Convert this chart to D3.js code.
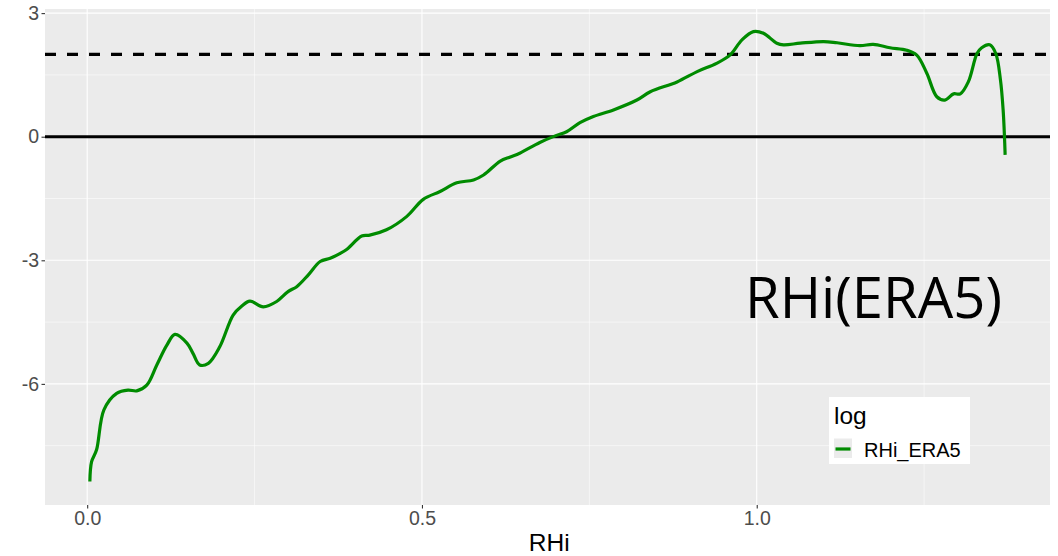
<!DOCTYPE html>
<html><head><meta charset="utf-8">
<script src="https://cdn.jsdelivr.net/npm/d3@7"></script>
<style>body{margin:0;background:#fff}svg{display:block}</style>
</head><body>
<svg id="c" width="1058" height="556"></svg>
<script>
const rhi = [0.004,0.0066,0.014,0.025,0.044,0.061,0.074,0.089,0.104,0.119,0.131,0.149,0.158,0.168,0.181,0.198,0.218,0.231,0.243,0.263,0.283,0.300,0.313,0.330,0.348,0.363,0.378,0.388,0.410,0.422,0.447,0.477,0.502,0.527,0.552,0.577,0.592,0.617,0.632,0.646,0.676,0.699,0.716,0.736,0.756,0.786,0.821,0.841,0.881,0.911,0.940,0.960,0.978,0.995,1.010,1.030,1.040,1.065,1.100,1.120,1.154,1.174,1.199,1.224,1.239,1.254,1.269,1.281,1.294,1.304,1.316,1.329,1.336,1.348,1.357,1.364,1.368,1.370,1.371];
const logVal = [-8.37,-7.89,-7.60,-6.63,-6.23,-6.15,-6.17,-6.03,-5.54,-5.06,-4.80,-5.01,-5.26,-5.54,-5.50,-5.10,-4.33,-4.11,-3.99,-4.13,-4.00,-3.76,-3.64,-3.36,-3.03,-2.95,-2.83,-2.73,-2.41,-2.39,-2.26,-1.94,-1.52,-1.33,-1.12,-1.05,-0.93,-0.59,-0.49,-0.40,-0.14,0.02,0.12,0.34,0.49,0.65,0.89,1.09,1.33,1.58,1.78,1.98,2.35,2.55,2.51,2.27,2.23,2.27,2.31,2.28,2.21,2.24,2.16,2.10,1.98,1.54,0.97,0.89,1.04,1.04,1.33,2.02,2.16,2.23,2.02,1.38,0.65,0.00,-0.44];
const xTicks = [0.0, 0.5, 1.0];
const xTickLabels = ["0.0", "0.5", "1.0"];
const xMinor = [0.25, 0.75, 1.25];
const yTicks = [3, 0, -3, -6];
const yTickLabels = ["3", "0", "-3", "-6"];
const yMinor = [1.5, -1.5, -4.5, -7.5];
const refLines = [0, 2];
const seriesName = "RHi_ERA5";
const legendTitle = "log";
const annotation = "RHi(ERA5)";
const xTitle = "RHi";

const FONT = "Liberation Sans, Arial, sans-serif";
const svg = d3.select("#c");
const L = 45, R = 1050, T = 9, B = 505;
const x = d3.scaleLinear().domain([-0.063, 1.438]).range([L, R]);
const y = d3.scaleLinear().domain([-8.94, 3.1]).range([B, T]);

svg.append("rect").attr("x", L).attr("y", T).attr("width", R - L).attr("height", B - T).attr("fill", "#EBEBEB");

const g = svg.append("g");
g.selectAll(".xm").data(xMinor).join("line").attr("x1", d => x(d)).attr("x2", d => x(d)).attr("y1", T).attr("y2", B).attr("stroke", "#fff").attr("stroke-width", 0.55);
g.selectAll(".ym").data(yMinor).join("line").attr("y1", d => y(d)).attr("y2", d => y(d)).attr("x1", L).attr("x2", R).attr("stroke", "#fff").attr("stroke-width", 0.55);
g.selectAll(".xM").data(xTicks).join("line").attr("x1", d => x(d)).attr("x2", d => x(d)).attr("y1", T).attr("y2", B).attr("stroke", "#fff").attr("stroke-width", 1.1);
g.selectAll(".yM").data(yTicks).join("line").attr("y1", d => y(d)).attr("y2", d => y(d)).attr("x1", L).attr("x2", R).attr("stroke", "#fff").attr("stroke-width", 1.1);

// axes
const xAxis = d3.axisBottom(x).tickValues(xTicks).tickFormat((d, i) => xTickLabels[i]).tickSize(3.5).tickPadding(3);
const xa = svg.append("g").attr("transform", `translate(0,${B})`).call(xAxis);
xa.select(".domain").remove();
xa.selectAll("line").attr("stroke", "#333").attr("stroke-width", 1.1);
xa.selectAll("text").attr("fill", "#4D4D4D").style("font-family", FONT).style("font-size", "19.5px");

const yAxis = d3.axisLeft(y).tickValues(yTicks).tickFormat((d, i) => yTickLabels[i]).tickSize(3.5).tickPadding(2.5);
const ya = svg.append("g").attr("transform", `translate(${L},0)`).call(yAxis);
ya.select(".domain").remove();
ya.selectAll("line").attr("stroke", "#333").attr("stroke-width", 1.1);
ya.selectAll("text").attr("fill", "#4D4D4D").style("font-family", FONT).style("font-size", "19.5px");

// reference lines
svg.append("line").attr("x1", L).attr("x2", R).attr("y1", y(refLines[0])).attr("y2", y(refLines[0])).attr("stroke", "#000").attr("stroke-width", 3);
svg.append("line").attr("x1", L).attr("x2", R).attr("y1", y(refLines[1])).attr("y2", y(refLines[1])).attr("stroke", "#000").attr("stroke-width", 3.2).attr("stroke-dasharray", "11,11");

// series
const data = rhi.map((v, i) => [v, logVal[i]]);
const line = d3.line().x(d => x(d[0])).y(d => y(d[1])).curve(d3.curveCatmullRom.alpha(0.5));
svg.append("path").datum(data).attr("d", line).attr("fill", "none").attr("stroke", "#008B00").attr("stroke-width", 3.2).attr("stroke-linejoin", "round").attr("stroke-linecap", "butt");

// annotation
svg.append("text").attr("x", 745).attr("y", 318).text(annotation)
  .style("font-family", "Open Sans, sans-serif").style("font-size", "56px").attr("fill", "#000")
  .attr("textLength", 257).attr("lengthAdjust", "spacingAndGlyphs");

// axis title
svg.append("text").attr("x", x(0.69)).attr("y", 551).attr("text-anchor", "middle").text(xTitle)
  .style("font-family", FONT).style("font-size", "24.5px").attr("fill", "#000");

// legend
const lg = svg.append("g");
lg.append("rect").attr("x", 829).attr("y", 397).attr("width", 141).attr("height", 67).attr("fill", "#fff");
lg.append("text").attr("x", 834).attr("y", 424).text(legendTitle).style("font-family", FONT).style("font-size", "24.5px").attr("fill", "#000");
lg.append("rect").attr("x", 834).attr("y", 438.5).attr("width", 18).attr("height", 19.5).attr("fill", "#EBEBEB");
lg.append("line").attr("x1", 835.5).attr("x2", 850.5).attr("y1", 449).attr("y2", 449).attr("stroke", "#008B00").attr("stroke-width", 3.2);
lg.append("text").attr("x", 864).attr("y", 456.5).text(seriesName).style("font-family", FONT).style("font-size", "20px").attr("fill", "#000");
</script>
</body></html>
